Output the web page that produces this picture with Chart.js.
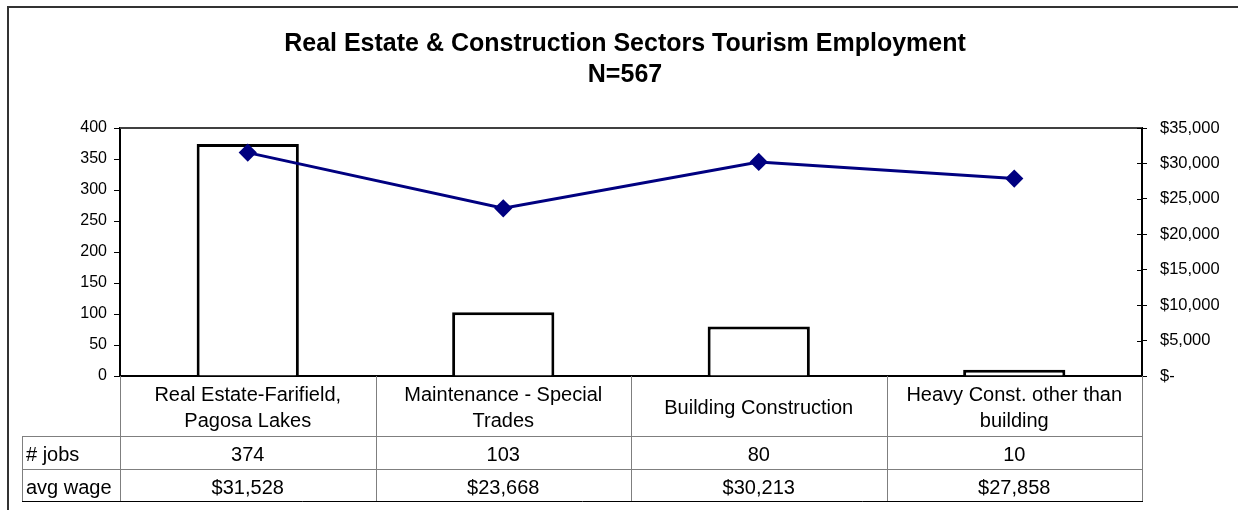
<!DOCTYPE html>
<html>
<head>
<meta charset="utf-8">
<script src="https://cdn.jsdelivr.net/npm/chart.js@4"></script>
<style>
  html, body { margin: 0; padding: 0; background: #fff; }
  #wrap { width: 1238px; height: 510px; }
</style>
</head>
<body>
<div id="wrap"><canvas id="chart" width="1238" height="510"></canvas></div>
<script>
// data
var categories = [
  ["Real Estate-Farifield,", "Pagosa Lakes"],
  ["Maintenance - Special", "Trades"],
  ["Building Construction"],
  ["Heavy Const. other than", "building"]
];
var jobs = [374, 103, 80, 10];
var avgWage = [31528, 23668, 30213, 27858];
var rowLabels = ["# jobs", "avg wage"];
var titleLines = ["Real Estate & Construction Sectors Tourism Employment", "N=567"];

var FONT = "'Liberation Sans', Arial, sans-serif";

function money(v) {
  if (v === 0) return "$-";
  return "$" + v.toLocaleString("en-US");
}

// frame, top line of plot area and the data table underneath
var excelBits = {
  id: "excelBits",
  beforeDraw: function (chart) {
    var ctx = chart.ctx;
    ctx.save();
    ctx.strokeStyle = "#333";
    ctx.lineWidth = 2;
    ctx.beginPath();
    ctx.moveTo(8, 510);
    ctx.lineTo(8, 7);
    ctx.lineTo(1238, 7);
    ctx.stroke();
    ctx.restore();
  },
  afterDraw: function (chart) {
    var ctx = chart.ctx;
    var a = chart.chartArea;
    var x = chart.scales.x;
    var y1 = chart.scales.y1;
    var colW = (a.right - a.left) / categories.length;
    var rows = [a.bottom, a.bottom + 60, a.bottom + 93, a.bottom + 125];
    var headLeft = 22;

    ctx.save();
    // top edge of plot area
    ctx.strokeStyle = "#404040";
    ctx.lineWidth = 2;
    ctx.beginPath();
    ctx.moveTo(a.left, a.top);
    ctx.lineTo(a.right, a.top);
    ctx.stroke();

    // right axis tick marks cross the axis line
    ctx.strokeStyle = "#000";
    ctx.lineWidth = 1;
    ctx.beginPath();
    y1.ticks.forEach(function (t) {
      var py = Math.round(y1.getPixelForValue(t.value)) + 0.5;
      ctx.moveTo(a.right - 5, py);
      ctx.lineTo(a.right, py);
    });
    ctx.stroke();

    // table grid
    ctx.strokeStyle = "#7f7f7f";
    ctx.beginPath();
    for (var r = 1; r < rows.length - 1; r++) {
      ctx.moveTo(headLeft, rows[r] + 0.5);
      ctx.lineTo(a.right, rows[r] + 0.5);
    }
    ctx.moveTo(headLeft + 0.5, rows[1]);
    ctx.lineTo(headLeft + 0.5, rows[3]);
    for (var c = 0; c <= categories.length; c++) {
      var cx = Math.round(a.left + c * colW) + 0.5;
      ctx.moveTo(cx, rows[0]);
      ctx.lineTo(cx, rows[3]);
    }
    ctx.stroke();
    ctx.strokeStyle = "#000";
    ctx.beginPath();
    ctx.moveTo(headLeft, rows[3] + 0.5);
    ctx.lineTo(a.right + 1, rows[3] + 0.5);
    ctx.stroke();

    // table text
    ctx.fillStyle = "#000";
    ctx.font = "20px " + FONT;
    ctx.textBaseline = "middle";
    ctx.textAlign = "left";
    ctx.fillText(rowLabels[0], headLeft + 4, (rows[1] + rows[2]) / 2 + 3);
    ctx.fillText(rowLabels[1], headLeft + 4, (rows[2] + rows[3]) / 2 + 3);
    ctx.textAlign = "center";
    categories.forEach(function (lines, i) {
      var px = x.getPixelForValue(i);
      var mid = (rows[0] + rows[1]) / 2;
      var lh = 26;
      lines.forEach(function (t, j) {
        ctx.fillText(t, px, mid + (j - (lines.length - 1) / 2) * lh + 2);
      });
      ctx.fillText(String(jobs[i]), px, (rows[1] + rows[2]) / 2 + 3);
      ctx.fillText(money(avgWage[i]), px, (rows[2] + rows[3]) / 2 + 3);
    });
    ctx.restore();
  }
};

new Chart(document.getElementById("chart"), {
  type: "bar",
  data: {
    labels: categories,
    datasets: [{
      type: "line",
      label: "avg wage",
      data: avgWage,
      yAxisID: "y1",
      borderColor: "#000080",
      backgroundColor: "#000080",
      borderWidth: 3,
      pointStyle: "rectRot",
      pointRadius: 7,
      pointHoverRadius: 7,
      pointBackgroundColor: "#000080",
      pointBorderColor: "#000080",
      tension: 0,
      order: 0
    }, {
      label: "# jobs",
      data: jobs,
      yAxisID: "y",
      backgroundColor: "#ffffff",
      borderColor: "#000000",
      borderWidth: 3,
      barPercentage: 0.4,
      categoryPercentage: 1,
      order: 1
    }]
  },
  options: {
    responsive: false,
    animation: false,
    layout: { padding: { left: 12, right: 0, top: 0, bottom: 0 } },
    plugins: {
      legend: { display: false },
      tooltip: { enabled: false },
      title: {
        display: true,
        text: titleLines,
        color: "#000",
        font: { family: FONT, size: 25, weight: "bold", lineHeight: 1.25 },
        padding: { top: 28, bottom: 37.5 }
      }
    },
    scales: {
      x: {
        offset: true,
        grid: { display: true, drawOnChartArea: false, drawTicks: false },
        border: { display: true, color: "#000", width: 2 },
        ticks: { display: false },
        afterFit: function (s) { s.height = 134; }
      },
      y: {
        position: "left",
        min: 0,
        max: 400,
        ticks: { stepSize: 50, color: "#000", padding: 7, font: { family: FONT, size: 16 } },
        grid: { drawOnChartArea: false, tickLength: 6, color: "#000", tickColor: "#000" },
        border: { display: true, color: "#000", width: 2 },
        afterFit: function (s) { s.width = 108; }
      },
      y1: {
        position: "right",
        min: 0,
        max: 35000,
        ticks: {
          stepSize: 5000,
          color: "#000",
          padding: 13,
          font: { family: FONT, size: 16.5 },
          callback: function (v) { return money(v); }
        },
        grid: { drawOnChartArea: false, tickLength: 5, color: "#000", tickColor: "#000" },
        border: { display: true, color: "#000", width: 2 },
        afterFit: function (s) { s.width = 96; }
      }
    }
  },
  plugins: [excelBits]
});
</script>
</body>
</html>
